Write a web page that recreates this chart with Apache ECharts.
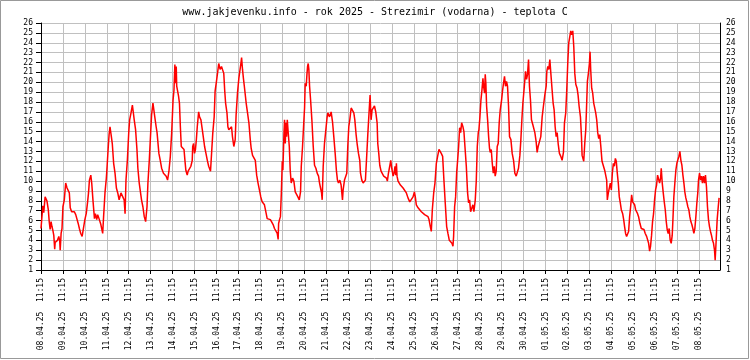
<!DOCTYPE html>
<html><head><meta charset="utf-8">
<script src="https://cdn.jsdelivr.net/npm/echarts@6/dist/echarts.min.js"></script>
<style>html,body{margin:0;padding:0;background:#fff}#c{width:750px;height:360px}</style>
</head><body><div id="c"></div>
<script>
const chartTitle = 'www.jakjevenku.info - rok 2025 - Strezimir (vodarna) - teplota C';
const dayLabels = ['08.04.25','09.04.25','10.04.25','11.04.25','12.04.25','13.04.25','14.04.25','15.04.25',
  '16.04.25','17.04.25','18.04.25','19.04.25','20.04.25','21.04.25','22.04.25','23.04.25','24.04.25',
  '25.04.25','26.04.25','27.04.25','28.04.25','29.04.25','30.04.25','01.05.25','02.05.25','03.05.25',
  '04.05.25','05.05.25','06.05.25','07.05.25','08.05.25'];
const tickTime = '11:15';
const yMin = 1, yMax = 26;
const xEndHours = 743;

// hours since 08.04.25 11:15
const hours = [
 0,1.5,2,3,4.5,6.5,7.5,8,9,10,11,12,13,14,15,15.5,17,18,19.5,20.5,21,22,23,24,
 25.5,27,28.5,30,31,32,33.5,35,36.5,38,39.5,41,42,43.5,45,46.5,48,
 49.5,51,52,53,54.5,55.5,57,58.5,59.5,61,62,63.5,65.5,67.5,68.5,70,71.5,72,
 73.5,74.5,75.5,77,78,79.5,81,82.5,84,85.5,87.5,89,91,92,93,94.5,96,
 97,98.5,100,101,102,103.5,105,106,107.5,108.5,110,111.5,113,114.5,116,117,118.5,120,121,122.5,
 124.5,126,127,129,130.5,132,134,135.5,137,138.5,140,141.5,143,144.5,
 145.5,146.5,147,148,148.5,149.5,150.5,151.5,152.5,153.5,155,156.5,157.5,158.5,160,161,162.5,164,165.5,166,167,168,
 169,170,171,172.5,173.5,175,176.5,178,179,180.5,182,183.5,185.5,186.5,188,189.5,190.5,192,
 193,194.5,196,197.5,199,200,201,202,203.5,204.5,205.5,207,208.5,209.5,211,212.5,213.5,215,216.5,
 218,219,219.5,220.5,221.5,222.5,224.5,226,227.5,229,230,231.5,233,234.5,236,237.5,239,240.5,242,243.5,244.5,
 246,247.5,249,251,252.5,254,255.5,257,258.5,259.5,260,261,262,263,264,
 264.7,265.8,266.5,267.3,268,268.7,269.5,270.5,271.7,272.7,273.8,275.3,276.7,278.2,279.7,281.1,282.6,284,284.8,286.2,287.3,
 288.4,289.1,290.2,291,291.7,292.4,293.1,293.9,295,296.4,297.9,299.3,300.8,302.2,303.7,304.8,305.9,307,307.7,308.8,310.2,311.7,
 313.1,313.9,315.7,316.8,317.5,319,320.4,321.9,323.3,324.4,325.5,327,328.4,329.9,330.6,332.1,333.5,334.6,335.7,
 336.8,337.9,339.4,340.8,342.3,343.4,344.8,345.9,347.4,348.8,349.6,351,352.5,353.9,355,356.1,357.6,358.7,360.1,
 361.2,362.3,363.4,364.9,366.3,367.8,
 368.5,369.6,370.7,372.1,373.6,375,376.5,378,379,380.2,381.6,382.7,383.8,385.3,386.3,387.4,388.2,388.9,389.6,390.7,
 391.8,393.3,394.7,396.2,398,399.8,401.6,403.5,405.3,407.1,408.6,409.6,410.7,412.6,414.4,
 416.2,418,419.8,421.7,423.5,424.6,426,427.1,428.2,429.7,431.1,432.6,434,435.5,436.6,438,439.5,
 440.9,442.4,443.9,445.3,446.8,448.2,449.7,450.8,451.5,452.6,453.7,454.8,455.9,457,458.1,459.2,460.3,461.7,462.8,
 463.9,465.4,466.8,467.9,469,470.1,471.5,472.6,473.7,475.2,476.3,477.4,478.5,479.2,480.3,481.4,482.5,483.6,
 484.3,485.4,486.1,486.8,487.6,488.7,489.8,490.8,
 491.6,492.7,493.8,494.9,496,497,498.1,499.2,500.3,501.4,502.5,504,505,506.1,507.2,508.3,509.4,510.5,
 511.6,512.7,514.2,515.6,517.1,518.5,520,521.4,522.5,524,525.1,526.2,527.3,528.7,530.2,531.3,532.4,533.5,
 534.5,535.6,536.7,538.2,539.3,540.4,541.8,542.9,544,545.5,546.9,548.4,549.8,551.3,552.8,553.5,554.6,555.7,556.8,
 557.9,559.3,560.4,561.5,562.6,563.7,564.8,565.9,567.3,568.8,570.2,571.7,572.8,574.2,575.3,576.4,577.5,578.6,579.7,580.8,581.9,
 583,584.1,585.2,586.6,587.7,588.8,590.3,591.4,592.1,593.2,593.9,595,596.1,596.8,597.9,599,600.1,600.8,
 601.5,602.6,603.7,604.8,605.9,607,608.1,609.2,610.3,611.4,612.5,
 613.9,615.3,616.8,618.3,619,619.7,620.8,621.9,623,624.1,625.2,626.3,627.4,628.5,629.5,630.6,631.7,632.8,633.9,635,
 636.5,637.6,638.6,639.7,640.8,641.9,643,644.1,645.2,646.3,647.4,648.5,649.6,650.7,651.8,652.8,653.9,655.4,656.9,658.3,
 659.8,661.2,662.7,663.8,664.9,666,667,668.1,669.2,670.3,671.4,672.5,673.6,674.7,675.8,676.9,678,678.7,
 679.8,680.9,682,683.1,684.2,685.2,686.3,687.4,688.5,689.6,690.7,691.4,692.5,693.6,694.7,695.8,696.9,698,699.1,
 700.2,701.3,702.4,703.5,704.5,705.6,706.7,707.8,708.9,710,711.1,712.2,713.3,714.4,715.5,716.6,717.7,718.7,
 719.5,720.6,721.7,722.8,723.8,724.9,726,727.1,728.2,729.3,730.4,731.5,732.6,733.7,734.8,735.9,737,737.7,738.8,739.9,741,742
];
// temperature, deg C
const temps = [
 5.2,5.4,7.5,6.8,8.4,8.0,7.9,7.1,5.9,5.1,5.9,5.4,5.0,4.5,3.1,3.8,3.9,4.0,4.4,3.9,3.0,4.7,5.2,7.4,
 8.1,9.8,9.3,9.4,8.8,7.3,6.9,7.1,6.9,6.6,6.4,5.6,5.2,4.7,4.4,4.4,6.1,
 6.7,7.9,8.8,10.1,10.6,9.8,7.9,6.2,6.7,6.1,6.6,6.2,5.6,4.7,6.4,8.8,10.3,11.0,
 13.3,14.7,15.5,14.5,13.8,11.8,10.8,9.3,8.8,8.1,8.8,8.9,8.1,6.7,10.1,12.1,14.9,
 16.2,16.9,17.7,17.6,16.2,15.2,13.2,11.3,9.8,9.1,8.1,7.4,6.4,5.9,7.4,9.8,12.1,14.9,16.7,17.9,
 16.5,15.5,14.9,12.8,12.1,11.3,10.8,10.6,10.5,10.1,11.0,12.5,14.9,18.2,
 19.2,21.8,19.9,21.6,19.6,19.8,18.6,17.9,15.5,13.5,13.3,13.2,12.1,11.1,10.6,11.0,11.1,11.5,12.1,13.5,13.8,12.8,
 13.2,14.2,15.5,17.0,16.5,16.2,15.2,14.2,13.5,12.8,12.1,11.5,11.0,11.1,14.9,16.5,19.1,20.1,
 20.8,21.9,21.3,21.6,21.8,20.9,19.2,17.9,16.9,15.5,15.2,15.4,15.5,14.5,13.5,14.2,16.7,18.9,20.4,
 20.6,22.1,22.5,21.3,20.4,19.6,17.9,16.9,15.9,14.2,13.3,12.6,12.6,12.1,10.6,9.8,9.1,8.4,7.9,7.8,7.6,
 6.9,6.2,6.1,6.1,5.9,5.6,5.2,5.1,4.7,4.1,5.7,6.1,6.4,8.8,12.0,
 11.1,14.7,16.2,13.8,15.9,14.5,16.2,14.9,13.5,11.1,9.8,10.3,10.0,8.9,8.8,8.4,8.1,8.9,11.5,13.5,15.5,
 17.4,19.9,19.6,20.8,21.6,21.9,21.3,19.6,18.2,16.2,13.5,11.6,11.3,10.8,10.5,9.8,9.3,8.8,8.1,11.5,13.8,15.2,
 16.5,16.9,16.5,16.7,17.0,16.0,14.5,12.8,11.0,10.1,9.8,10.1,9.6,8.1,9.1,10.1,10.3,10.8,13.5,
 15.5,16.2,17.4,17.2,16.9,16.2,14.7,13.8,12.8,12.1,10.8,10.1,9.8,9.6,10.1,12.0,14.7,16.5,18.7,
 16.2,17.2,17.4,17.6,17.0,15.9,
 13.8,12.8,11.6,11.0,10.8,10.5,10.6,10.3,10.0,10.8,11.5,12.1,11.3,10.5,10.8,11.5,10.6,11.8,10.5,10.0,
 9.8,9.6,9.4,9.3,9.1,8.8,8.3,7.9,8.1,8.4,8.9,8.4,7.6,7.3,7.1,
 6.9,6.7,6.6,6.5,6.4,6.1,5.4,4.9,7.1,8.8,9.8,11.8,12.5,13.2,13.2,12.8,12.5,
 10.1,7.7,5.4,4.7,4.0,3.9,3.7,3.4,4.4,7.4,8.4,10.8,12.1,13.5,15.4,14.9,15.9,15.5,15.0,
 13.5,11.5,8.8,7.8,8.1,6.9,7.1,7.6,6.9,8.1,10.0,13.5,14.9,15.2,16.5,18.2,19.2,20.4,
 19.6,18.9,20.8,19.9,17.6,16.2,14.5,13.3,
 12.9,13.2,11.8,10.8,11.5,10.5,11.0,13.5,13.8,15.9,17.2,18.2,19.1,19.9,20.6,19.6,20.1,19.6,
 17.6,14.5,14.2,12.8,12.1,10.8,10.5,10.6,11.3,12.6,14.2,16.2,17.9,19.4,21.1,20.3,20.8,22.3,
 19.6,18.2,16.2,15.7,15.5,14.9,14.0,12.9,13.5,13.6,14.5,16.5,17.6,18.7,19.6,21.1,21.6,21.3,22.3,
 20.9,19.2,17.9,17.2,15.5,14.5,14.9,13.8,12.8,12.5,12.1,12.9,15.9,16.9,19.2,21.9,24.0,24.6,25.2,24.8,25.2,
 23.6,20.9,19.8,19.4,18.7,17.6,16.5,14.5,12.6,12.8,12.0,13.8,15.2,17.0,20.1,20.9,21.9,23.1,
 21.3,19.4,18.9,17.9,17.4,16.9,16.2,14.9,14.3,14.7,13.6,
 12.0,11.8,11.1,11.0,10.1,8.1,8.8,8.8,9.8,9.1,10.8,11.8,11.5,12.3,12.0,10.8,9.8,8.4,7.8,7.1,
 6.7,6.1,5.4,4.7,4.4,4.5,4.9,6.4,7.4,8.6,7.9,7.8,7.6,7.1,7.3,6.7,6.4,5.7,5.2,5.2,
 5.1,4.7,4.4,4.5,3.7,2.9,3.4,4.5,5.9,6.7,8.1,9.1,9.6,10.6,10.5,9.8,10.3,11.3,
 9.8,8.8,7.9,7.1,5.9,5.1,4.7,5.2,4.0,3.7,4.5,5.9,8.4,9.8,11.1,11.8,12.0,12.5,13.0,
 12.1,11.6,10.6,9.8,8.9,8.3,7.9,7.4,7.1,6.4,5.9,5.6,5.2,4.7,5.2,6.4,7.8,8.8,
 10.1,10.8,10.1,10.5,9.8,10.5,9.8,10.6,9.4,7.4,6.1,5.4,4.9,4.5,4.0,3.7,3.0,2.0,4.0,6.1,7.3,8.3
];

const n = Math.min(hours.length, temps.length);
const seriesData = [];
for (let i = 0; i < n; i++) seriesData.push([hours[i], temps[i]]);
const tickHours = dayLabels.map((d, i) => i * 24);

const monoFont = 'DejaVu Sans Mono';
const chart = echarts.init(document.getElementById('c'), null, {renderer: 'canvas'});
chart.setOption({
  animation: false,
  backgroundColor: '#fff',
  title: {
    text: chartTitle, left: 'center', top: 7, padding: 0,
    textStyle: {fontFamily: monoFont, fontSize: 10, fontWeight: 'normal', color: '#000'}
  },
  grid: {left: 41, right: 30, top: 23, bottom: 90},
  xAxis: {
    type: 'value', min: 0, max: xEndHours, interval: 24,
    axisLine: {lineStyle: {color: '#000', width: 1}},
    axisTick: {length: 4, lineStyle: {color: '#000'}, customValues: tickHours},
    splitLine: {show: true, lineStyle: {color: '#c0c0c0', width: 1}},
    axisLabel: {
      rotate: 90, margin: 8, fontFamily: monoFont, fontSize: 8, color: '#000',
      customValues: tickHours,
      formatter: v => (v % 24 === 0 && dayLabels[v / 24]) ? dayLabels[v / 24] + '  ' + tickTime : ''
    }
  },
  yAxis: [
    {
      type: 'value', min: yMin, max: yMax, interval: 1, position: 'left',
      axisLine: {show: true, lineStyle: {color: '#000'}},
      axisTick: {show: true, length: 5, lineStyle: {color: '#000'}},
      splitLine: {show: true, lineStyle: {color: '#c0c0c0', width: 1}},
      axisLabel: {margin: 8, fontFamily: monoFont, fontSize: 8, color: '#000'}
    },
    {
      type: 'value', min: yMin, max: yMax, interval: 1, position: 'right',
      axisLine: {show: true, lineStyle: {color: '#000'}},
      axisTick: {show: false},
      splitLine: {show: false},
      axisLabel: {margin: 6, fontFamily: monoFont, fontSize: 8, color: '#000'}
    }
  ],
  series: [{
    type: 'line', data: seriesData, showSymbol: false, symbol: 'none',
    sampling: undefined,
    lineStyle: {color: '#ff0000', width: 1.5},
    itemStyle: {color: '#ff0000'}
  }],
  graphic: [{
    type: 'rect', z: 100,
    shape: {x: 0.5, y: 0.5, width: 748, height: 358},
    style: {fill: null, stroke: '#999', lineWidth: 1}
  }]
});
</script></body></html>
